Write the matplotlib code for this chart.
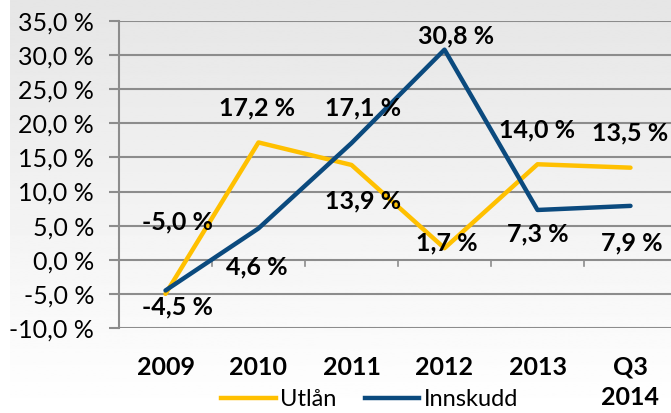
import numpy as np
import matplotlib
matplotlib.use("Agg")
import matplotlib.pyplot as plt
from matplotlib.lines import Line2D

plt.rcParams['font.family'] = ['Lato', 'DejaVu Sans']

# data
categories = ["2009", "2010", "2011", "2012", "2013", "Q3\n2014"]
utlan = [-5.0, 17.2, 13.9, 1.7, 14.0, 13.5]
innskudd = [-4.5, 4.6, 17.1, 30.8, 7.3, 7.9]
y_ticks = [-10, -5, 0, 5, 10, 15, 20, 25, 30, 35]

# label offsets in points (dx, dy) per point
utlan_off = [(9, 52), (-1, 25), (8, -26), (2, 4), (0, 25), (0, 25)]
innskudd_off = [(9, -12), (-1, -28), (8, 25), (8, 10), (0, -17), (1, -27)]

yellow = "#FFC000"
blue = "#0B4A7E"
grid_c = "#8C8C8C"

fig = plt.figure(figsize=(6.71, 4.13), dpi=100)

# gradient background
bg = fig.add_axes([10 / 671, 0, 1, 1], zorder=-10)
grad = np.linspace(0.90, 1.0, 256).reshape(-1, 1)
bg.imshow(grad, aspect="auto", cmap="gray", vmin=0, vmax=1,
          extent=[0, 1, 0, 1], origin="upper")
bg.axis("off")

ax = fig.add_axes([119 / 671, 85 / 413, 558 / 671, 307 / 413])
ax.patch.set_alpha(0)

x = np.arange(len(categories))
ax.plot(x, utlan, color=yellow, lw=3.2, solid_capstyle="round", zorder=3)
ax.plot(x, innskudd, color=blue, lw=3.2, solid_capstyle="round", zorder=4)

def fmt(v):
    return ("%.1f %%" % v).replace(".", ",")

for i in range(len(x)):
    ax.annotate(fmt(utlan[i]), (x[i], utlan[i]), xytext=utlan_off[i],
                textcoords="offset points", ha="center", va="center",
                fontsize=18, fontweight="bold", zorder=6)
    ax.annotate(fmt(innskudd[i]), (x[i], innskudd[i]), xytext=innskudd_off[i],
                textcoords="offset points", ha="center", va="center",
                fontsize=18, fontweight="bold", zorder=6)

ax.set_xlim(-0.5, len(categories) - 0.5)
ax.set_ylim(-10, 35)
ax.set_yticks(y_ticks)
ax.set_yticklabels([fmt(v) for v in y_ticks], fontsize=18)
ax.yaxis.grid(True, color=grid_c, lw=1.5)
ax.set_axisbelow(True)

ax.set_xticks(x)
ax.set_xticklabels(categories, fontsize=18, fontweight="bold")
ax.tick_params(axis="x", length=0, pad=20)
ax.tick_params(axis="y", length=7, width=1.5, color=grid_c, pad=11)
ax.xaxis.get_ticklabels()[-1].set_linespacing(1.4)

for s in ["top", "right", "bottom"]:
    ax.spines[s].set_visible(False)
ax.spines["left"].set_color(grid_c)
ax.spines["left"].set_linewidth(1.5)

# small category ticks along the zero line
for b in x[:-1] + 0.5:
    ax.plot([b, b], [0, -0.9], color=grid_c, lw=1.2, zorder=1)

handles = [Line2D([], [], color=yellow, lw=3.2),
           Line2D([], [], color=blue, lw=3.2)]
fig.legend(handles, ["Utlån", "Innskudd"], loc="center",
           bbox_to_anchor=(370 / 671, 1 - 400 / 413), ncol=2, frameon=False,
           fontsize=17, handlelength=2.3, handletextpad=0.2, columnspacing=1.2)

fig.savefig("out.png", dpi=100)
